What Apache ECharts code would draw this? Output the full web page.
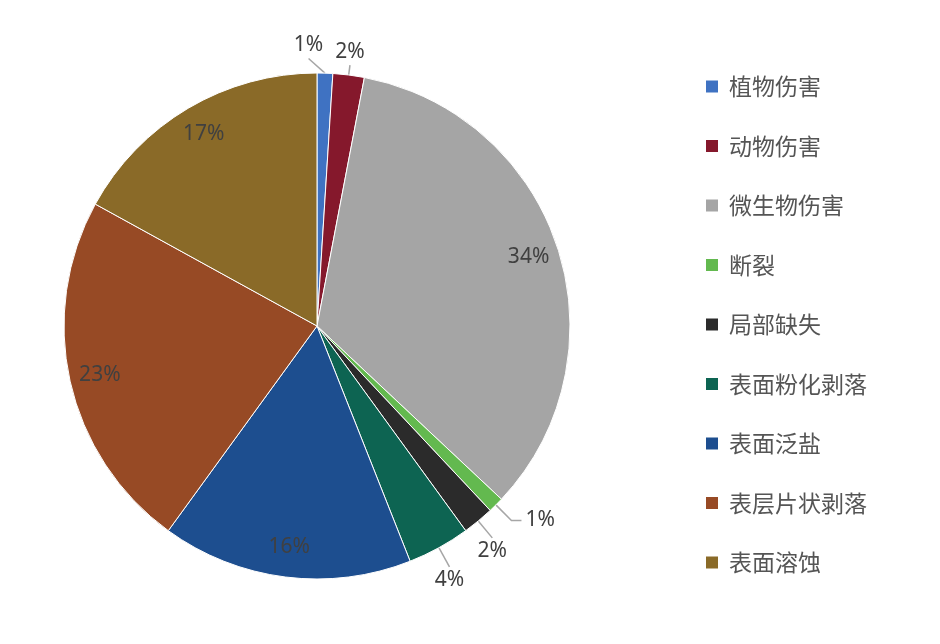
<!DOCTYPE html>
<html>
<head>
<meta charset="utf-8">
<script src="https://cdn.jsdelivr.net/npm/echarts@6/dist/echarts.min.js"></script>
<style>
  html, body { margin: 0; padding: 0; background: #fff; }
  #main { width: 940px; height: 644px; }
</style>
</head>
<body>
<div id="main"></div>
<script>
// 类别与占比 (%)
var categories = ['植物伤害', '动物伤害', '微生物伤害', '断裂', '局部缺失', '表面粉化剥落', '表面泛盐', '表层片状剥落', '表面溶蚀'];
var shares = [1, 2, 34, 1, 2, 4, 16, 23, 17];
var colors = ['#3f72c2', '#85182c', '#a5a5a5', '#63b94f', '#2b2b2b', '#0d6452', '#1d4e8f', '#974a25', '#8a6a28'];

var FONT = '"Noto Sans", "Noto Sans CJK SC", sans-serif';
var CENTER = [317, 326];
var R = 253;

// 个别引导线的偏转角(度)和长度, 避免顶部两个标签挤在一起
var leaderTilt = { 0: -50 };
var leaderLen = { 0: 22, 1: 10 };

// 小扇区标签放在外侧, 大扇区标签放在内侧靠边
var pieData = categories.map(function (name, i) {
  var small = shares[i] <= 4;
  return {
    name: name,
    value: shares[i],
    itemStyle: { color: colors[i] },
    label: { show: small },
    labelLine: { show: small }
  };
});

var ringData = categories.map(function (name, i) {
  return {
    name: name,
    value: shares[i],
    label: { show: shares[i] > 4 }
  };
});

// 外侧标签: 引导线沿径向, 文字放在线端正上/正下方; 偏水平方向的保留水平尾线
function radialLabel(p) {
  var pts = p.labelLinePoints;
  if (!pts) return {};
  var p0 = pts[0], p1 = pts[1];
  var dx = p1[0] - p0[0], dy = p1[1] - p0[1];
  var len = Math.sqrt(dx * dx + dy * dy) || 1;
  var ux = dx / len, uy = dy / len;

  if (Math.abs(uy) < 0.74 && pts[2]) {
    var p2 = pts[2];
    var right = p2[0] >= p1[0];
    return {
      x: p2[0] + (right ? 4 : -4),
      y: p2[1],
      align: right ? 'left' : 'right',
      verticalAlign: 'middle',
      labelLinePoints: pts
    };
  }

  var tilt = leaderTilt[p.dataIndex];
  if (tilt) {
    var a = tilt * Math.PI / 180;
    var nx = ux * Math.cos(a) - uy * Math.sin(a);
    var ny = ux * Math.sin(a) + uy * Math.cos(a);
    ux = nx; uy = ny;
  }
  var L = leaderLen[p.dataIndex] || len;
  var q = [p0[0] + ux * L, p0[1] + uy * L];
  var down = uy > 0;
  return {
    x: q[0],
    y: q[1] + (down ? 3 : -3),
    align: 'center',
    verticalAlign: down ? 'top' : 'bottom',
    labelLinePoints: [p0, q]
  };
}

var option = {
  backgroundColor: '#fff',
  animation: false,
  legend: {
    orient: 'vertical',
    left: 699,
    top: 70,
    itemWidth: 14,
    itemHeight: 14,
    itemGap: 36.5,
    icon: 'rect',
    selectedMode: false,
    textStyle: {
      fontFamily: '"Noto Sans CJK SC", sans-serif',
      fontSize: 23,
      color: '#555555',
      padding: [0, 0, 0, 5]
    },
    data: categories.map(function (name, i) {
      return { name: name, itemStyle: { color: colors[i] } };
    })
  },
  series: [
    {
      name: '病害',
      type: 'pie',
      center: CENTER,
      radius: [0, R],
      startAngle: 90,
      clockwise: true,
      avoidLabelOverlap: false,
      itemStyle: { borderColor: '#fff', borderWidth: 1 },
      label: {
        position: 'outside',
        formatter: '{c}%',
        fontFamily: FONT,
        fontSize: 21,
        color: '#404040'
      },
      labelLine: {
        length: 22,
        length2: 10,
        lineStyle: { color: '#a6a6a6', width: 1.5 }
      },
      labelLayout: radialLabel,
      emphasis: { disabled: true },
      data: pieData
    },
    {
      name: '标签',
      type: 'pie',
      center: CENTER,
      radius: [186, R],
      startAngle: 90,
      clockwise: true,
      silent: true,
      z: 3,
      itemStyle: { color: 'rgba(0,0,0,0)' },
      label: {
        position: 'inside',
        formatter: '{c}%',
        fontFamily: FONT,
        fontSize: 21,
        color: '#404040'
      },
      labelLine: { show: false },
      emphasis: { disabled: true },
      data: ringData
    }
  ]
};

var myChart = echarts.init(document.getElementById('main'));
myChart.setOption(option);
</script>
</body>
</html>
